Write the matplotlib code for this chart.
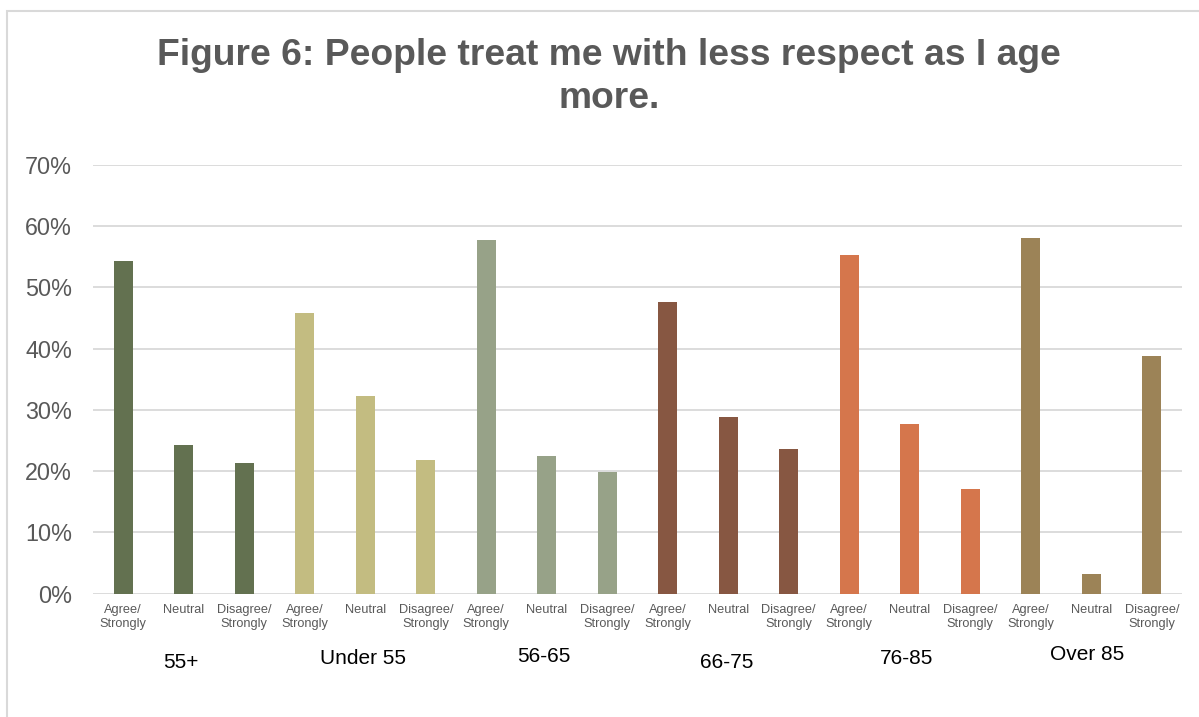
import matplotlib
matplotlib.use("Agg")
import matplotlib.pyplot as plt
from matplotlib.patches import Rectangle
import numpy as np

# Survey responses by age group
groups = ["55+", "Under 55", "56-65", "66-75", "76-85", "Over 85"]
responses = ["Agree/\nStrongly", "Neutral", "Disagree/\nStrongly"]
agree = [54.3, 45.8, 57.8, 47.6, 55.3, 58.1]
neutral = [24.3, 32.3, 22.5, 28.9, 27.7, 3.2]
disagree = [21.3, 21.8, 19.9, 23.6, 17.1, 38.8]
group_colors = ["#637150", "#C3BC81", "#97A288", "#875742", "#D5764C", "#9C8357"]
y_ticks = [0, 10, 20, 30, 40, 50, 60, 70]
title = "Figure 6: People treat me with less respect as I age\nmore."

plt.rcParams["font.family"] = ["Liberation Sans", "DejaVu Sans"]

W, H = 1199, 717
fig = plt.figure(figsize=(W / 100, H / 100), dpi=100)

# chart border
fig.patches.append(Rectangle((7 / W, -0.1), 1.2, 1 - 10.5 / H + 0.1,
                             transform=fig.transFigure, fill=False,
                             edgecolor="#D9D9D9", linewidth=1.5))

ax = fig.add_axes([93 / W, (H - 593.7) / H, (1182 - 93) / W, (593.7 - 165) / H])

values, colors, labels = [], [], []
for g in range(len(groups)):
    for v in (agree[g], neutral[g], disagree[g]):
        values.append(v)
        colors.append(group_colors[g])
    labels.extend(responses)

x = np.arange(len(values))
ax.bar(x, values, width=0.315, color=colors, zorder=3)

ax.set_xlim(-0.5, len(values) - 0.5)
ax.set_ylim(0, 70)
ax.set_yticks(y_ticks)
ax.set_yticklabels([f"{t}%" for t in y_ticks])
ax.yaxis.grid(True, color="#D9D9D9", linewidth=1.3, zorder=0)
ax.set_axisbelow(True)
for s in ax.spines.values():
    s.set_visible(False)
ax.tick_params(axis="y", length=0, pad=15, labelsize=16.8, labelcolor="#595959")
ax.set_xticks(x)
ax.set_xticklabels(labels, fontsize=9.2, color="#595959", linespacing=1.25, va="top")
ax.tick_params(axis="x", length=0, pad=7.5)

# age group captions below the response labels
group_pos = [(181, 662), (363, 659), (544, 657), (727, 662), (907, 658), (1087, 655)]
for name, (gx, gy) in zip(groups, group_pos):
    fig.text(gx / W, 1 - gy / H, name, ha="center", va="center",
             fontsize=15, color="black")

fig.text(609 / W, 1 - 77 / H, title, ha="center", va="center",
         fontsize=26.8, fontweight="bold", color="#595959", linespacing=1.3)

fig.savefig("out.png", dpi=100)
